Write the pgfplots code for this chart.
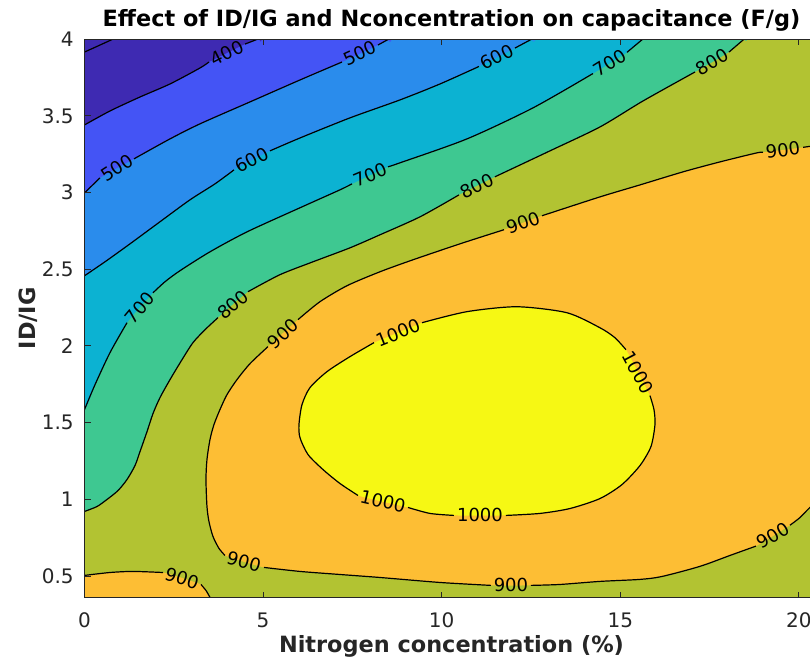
\documentclass[border=0pt]{standalone}
\usepackage{fontspec}
\setmainfont{DejaVu Sans}
\usepackage{pgfplots}
\pgfplotsset{compat=1.18}

% band colours, lowest to highest level
\definecolor{bandA}{RGB}{62,42,178}   % < 400
\definecolor{bandB}{RGB}{68,84,245}   % 400-500
\definecolor{bandC}{RGB}{42,140,236}  % 500-600
\definecolor{bandD}{RGB}{12,178,210}  % 600-700
\definecolor{bandE}{RGB}{62,200,145}  % 700-800
\definecolor{bandF}{RGB}{178,195,50}  % 800-900
\definecolor{bandG}{RGB}{253,190,52}  % 900-1000
\definecolor{bandH}{RGB}{246,248,20}  % > 1000
\definecolor{axgray}{RGB}{38,38,38}

\tikzset{clab/.style={font=\fontsize{9}{9}\selectfont, inner sep=0pt, text=black}}

\begin{document}
\begin{tikzpicture}
\begin{axis}[
  name=ax,
  scale only axis,
  width=367pt, height=279.25pt,
  xmin=0, xmax=20.55, ymin=0.36, ymax=4,
  xtick={0,5,10,15,20},
  ytick={0.5,1,1.5,2,2.5,3,3.5,4},
  axis on top,
  tick align=inside,
  major tick length=3pt,
  axis line style={draw=axgray, line width=0.5pt},
  every tick/.style={axgray, line width=0.5pt},
  /pgf/number format/assume math mode=true,
  ticklabel style={font=\fontsize{10}{12}\selectfont, text=axgray},
  xticklabel style={anchor=base, inner sep=0pt, yshift=-14.75pt},
  yticklabel style={anchor=east, inner sep=0pt, xshift=-5.25pt},
  title={Effect of ID/IG and Nconcentration on capacitance (F/g)},
  title style={font=\bfseries\fontsize{11.2}{13}\selectfont, at={(axis description cs:0.5,1)}, anchor=base, yshift=0.5pt},
  xlabel={Nitrogen concentration (\%)},
  xlabel style={font=\bfseries\fontsize{11.2}{13}\selectfont, text=axgray, at={(axis description cs:0.5,0)}, anchor=base, yshift=-27.6pt},
  ylabel={ID/IG},
  ylabel style={font=\bfseries\fontsize{11.2}{13}\selectfont, text=axgray, at={(axis description cs:-0.0674,0.5)}, anchor=base},
  unbounded coords=jump,
]
\pgfplotsset{
  band/.style={fill=#1, draw=none, smooth, tension=0.45},
  cline/.style={black, line width=0.6pt, line join=round, smooth, tension=0.45},
}

% ---- filled bands (each layer covers everything at or beyond its level)
\addplot[fill=bandF, draw=none] coordinates {(-1,0) (22,0) (22,5) (-1,5)} -- cycle;

% 700-800 : left of the 800 line
\addplot[band=bandE] coordinates {
 (-0.5,0.921) (0,0.921) (0.35,0.953) (0.63,0.999) (0.938,1.057) (1.19,1.129) (1.414,1.22)
 (1.554,1.311) (1.75,1.441) (1.918,1.559) (2.114,1.663) (2.394,1.78) (2.73,1.91)
 (3.037,2.021) (3.373,2.105) (3.737,2.184) (4.577,2.353) (5.473,2.464) (6.397,2.548)
 (7.433,2.639) (8.273,2.724) (9.393,2.841) (10.484,2.984) (11.492,3.102) (13.032,3.271)
 (14.433,3.427) (15.636,3.596) (17.092,3.785) (18.044,3.915) (18.436,3.993) (18.576,4.02)
 (18.8,4.5) (-0.5,4.5)} -- cycle;

% 600-700 : left of the 700 line
\addplot[band=bandD] coordinates {
 (-0.5,1.585) (0,1.585) (0.294,1.747) (0.714,1.956) (1.19,2.151) (1.918,2.346) (2.254,2.418)
 (2.674,2.49) (3.513,2.613) (4.549,2.743) (6.033,2.9) (7.153,3.017) (7.489,3.056)
 (8.497,3.167) (8.833,3.193) (10.709,3.349) (12.556,3.551) (14.236,3.775) (15.188,3.913)
 (15.636,4.0) (15.776,4.02) (16,4.5) (-0.5,4.5)} -- cycle;

% 500-600 : left of the 600 line
\addplot[band=bandC] coordinates {
 (-0.5,2.457) (0,2.457) (0.574,2.548) (1.274,2.665) (2.114,2.809) (2.954,2.952) (3.654,3.056)
 (4.185,3.147) (5.193,3.271) (6.033,3.355) (7.433,3.486) (8.833,3.603) (9.953,3.707)
 (11.044,3.821) (12.052,3.941) (12.472,3.993) (12.64,4.013) (12.8,4.5) (-0.5,4.5)} -- cycle;

% 400-500 : left of the 500 line
\addplot[band=bandB] coordinates {
 (-0.5,2.997) (0,2.997) (0.434,3.095) (1.386,3.219) (2.394,3.349) (3.233,3.447) (4.633,3.59)
 (6.033,3.733) (7.209,3.85) (8.217,3.961) (8.469,3.993) (8.609,4.013) (8.8,4.5) (-0.5,4.5)} -- cycle;

% below 400 : top left corner
\addplot[band=bandA] coordinates {
 (-0.5,3.44) (0,3.44) (0.714,3.531) (1.554,3.622) (2.394,3.707) (3.233,3.811) (3.485,3.85)
 (4.493,3.967) (4.857,4.0) (4.97,4.013) (5.1,4.5) (-0.5,4.5)} -- cycle;

% 900-1000 : the wide pocket opening to the right
\addplot[band=bandG] coordinates {
 (21.16,3.329) (20.12,3.294) (18.995,3.261) (18.827,3.258) (17.791,3.199) (16.755,3.134)
 (15.551,3.049) (14.432,2.971) (12.808,2.848) (11.744,2.757) (10.512,2.665) (9.196,2.561)
 (8.273,2.483) (7.349,2.392) (6.593,2.288) (5.977,2.171) (5.137,1.995) (4.633,1.884)
 (4.269,1.78) (3.989,1.682) (3.793,1.585) (3.625,1.487) (3.513,1.389) (3.429,1.259)
 (3.401,1.129) (3.429,0.953) (3.485,0.855) (3.597,0.758) (3.765,0.68) (3.933,0.634)
 (5.025,0.556) (6.033,0.53) (7.153,0.51) (8.301,0.49) (9.953,0.458) (11.38,0.439)
 (12.5,0.439) (13.312,0.445) (14.432,0.465) (15.551,0.478) (16.167,0.497) (17.231,0.563)
 (18.071,0.634) (18.799,0.695) (19.751,0.831) (20.031,0.881) (20.311,0.947) (20.871,1.064)
 (21.431,1.161) (22,1.3) (22,3.3)} -- cycle;

% 900-1000 : bottom left corner
\addplot[band=bandG] coordinates {
 (-0.5,0.504) (0,0.504) (0.714,0.523) (1.358,0.53) (2.198,0.523) (3.261,0.445) (3.401,0.406)
 (3.513,0.361) (3.569,0.335) (3.6,0.1) (-0.5,0.1)} -- cycle;

% above 1000 : closed island
\addplot[band=bandH] coordinates {
 (9.449,2.151) (10.708,2.223) (12.108,2.255) (13.508,2.216) (14.432,2.118) (14.852,2.053)
 (15.160,1.975) (15.832,1.676) (15.944,1.585) (15.972,1.487) (15.860,1.344) (15.552,1.220)
 (15.048,1.096) (14.432,1.005) (13.592,0.940) (12.752,0.908) (11.800,0.895) (10.344,0.895)
 (9.672,0.908) (9.056,0.947) (7.657,1.025) (7.153,1.103) (6.677,1.194) (6.257,1.292)
 (6.033,1.402) (6.005,1.487) (6.089,1.617) (6.313,1.728) (6.789,1.832) (7.433,1.93)
 (8.105,2.021)} -- cycle;

% ---- contour lines, broken where a label sits
% 300
\addplot[cline] coordinates {(0,3.915) (0.80,4.0) (1.0,4.03)};
% 400
\addplot[cline] coordinates {
 (0,3.44) (0.714,3.531) (1.554,3.622) (2.394,3.707) (3.233,3.811) (3.485,3.85) (nan,nan)
 (4.493,3.967) (4.857,4.0) (4.97,4.013)};
% 500
\addplot[cline] coordinates {
 (0,2.997) (0.434,3.095) (nan,nan)
 (1.386,3.219) (2.394,3.349) (3.233,3.447) (4.633,3.59) (6.033,3.733) (7.209,3.85) (nan,nan)
 (8.217,3.961) (8.469,3.993) (8.609,4.013)};
% 600
\addplot[cline] coordinates {
 (0,2.457) (0.574,2.548) (1.274,2.665) (2.114,2.809) (2.954,2.952) (3.654,3.056) (4.185,3.147) (nan,nan)
 (5.193,3.271) (6.033,3.355) (7.433,3.486) (8.833,3.603) (9.953,3.707) (11.044,3.821) (nan,nan)
 (12.052,3.941) (12.472,3.993) (12.64,4.013)};
% 700
\addplot[cline] coordinates {
 (0,1.585) (0.294,1.747) (0.714,1.956) (1.19,2.151) (nan,nan)
 (1.918,2.346) (2.254,2.418) (2.674,2.49) (3.513,2.613) (4.549,2.743) (6.033,2.9) (7.153,3.017)
 (7.489,3.056) (nan,nan)
 (8.497,3.167) (8.833,3.193) (10.709,3.349) (12.556,3.551) (14.236,3.775) (nan,nan)
 (15.188,3.913) (15.636,4.0) (15.776,4.02)};
% 800
\addplot[cline] coordinates {
 (0,0.921) (0.35,0.953) (0.63,0.999) (0.938,1.057) (1.19,1.129) (1.414,1.22) (1.554,1.311)
 (1.75,1.441) (1.918,1.559) (2.114,1.663) (2.394,1.78) (2.73,1.91) (3.037,2.021) (3.373,2.105)
 (3.737,2.184) (nan,nan)
 (4.577,2.353) (5.473,2.464) (6.397,2.548) (7.433,2.639) (8.273,2.724) (9.393,2.841)
 (10.484,2.984) (nan,nan)
 (11.492,3.102) (13.032,3.271) (14.433,3.427) (15.636,3.596) (17.092,3.785) (nan,nan)
 (18.044,3.915) (18.436,3.993) (18.576,4.02)};
% 900, wide pocket
\addplot[cline] coordinates {
 (21.16,3.329) (20.12,3.294) (nan,nan)
 (18.995,3.261) (18.827,3.258) (17.791,3.199) (16.755,3.134) (15.551,3.049) (14.432,2.971)
 (12.808,2.848) (nan,nan)
 (11.744,2.757) (10.512,2.665) (9.196,2.561) (8.273,2.483) (7.349,2.392) (6.593,2.288)
 (5.977,2.171) (nan,nan)
 (5.137,1.995) (4.633,1.884) (4.269,1.78) (3.989,1.682) (3.793,1.585) (3.625,1.487)
 (3.513,1.389) (3.429,1.259) (3.401,1.129) (3.429,0.953) (3.485,0.855) (3.597,0.758)
 (3.765,0.68) (3.933,0.634) (nan,nan)
 (5.025,0.556) (6.033,0.53) (7.153,0.51) (8.301,0.49) (9.953,0.458) (11.38,0.439) (nan,nan)
 (12.5,0.439) (13.312,0.445) (14.432,0.465) (15.551,0.478) (16.167,0.497) (17.231,0.563)
 (18.071,0.634) (18.799,0.695) (nan,nan)
 (19.751,0.831) (20.031,0.881) (20.311,0.947) (20.871,1.064) (21.431,1.161)};
% 900, bottom left
\addplot[cline] coordinates {
 (0,0.504) (0.714,0.523) (1.358,0.53) (2.198,0.523) (nan,nan)
 (3.261,0.445) (3.401,0.406) (3.513,0.361) (3.569,0.335)};
% 1000
\addplot[cline] coordinates {
 (9.449,2.151) (10.708,2.223) (12.108,2.255) (13.508,2.216) (14.432,2.118) (14.852,2.053)
 (15.160,1.975) (nan,nan)
 (15.832,1.676) (15.944,1.585) (15.972,1.487) (15.860,1.344) (15.552,1.220) (15.048,1.096)
 (14.432,1.005) (13.592,0.940) (12.752,0.908) (11.800,0.895) (nan,nan)
 (10.344,0.895) (9.672,0.908) (9.056,0.947) (nan,nan)
 (7.657,1.025) (7.153,1.103) (6.677,1.194) (6.257,1.292) (6.033,1.402) (6.005,1.487)
 (6.089,1.617) (6.313,1.728) (6.789,1.832) (7.433,1.93) (8.105,2.021)};

% ---- level labels
\node[clab, rotate=27]  at (axis cs:3.99,3.909)   {400};
\node[clab, rotate=33]  at (axis cs:0.91,3.16)    {500};
\node[clab, rotate=25]  at (axis cs:7.713,3.909)  {500};
\node[clab, rotate=28]  at (axis cs:4.689,3.212)  {600};
\node[clab, rotate=28]  at (axis cs:11.548,3.883) {600};
\node[clab, rotate=50]  at (axis cs:1.554,2.249)  {700};
\node[clab, rotate=23]  at (axis cs:7.993,3.115)  {700};
\node[clab, rotate=32]  at (axis cs:14.712,3.844) {700};
\node[clab, rotate=40]  at (axis cs:4.157,2.268)  {800};
\node[clab, rotate=27]  at (axis cs:10.988,3.043) {800};
\node[clab, rotate=30]  at (axis cs:17.565,3.850) {800};
\node[clab, rotate=7]   at (axis cs:19.555,3.277) {900};
\node[clab, rotate=20]  at (axis cs:12.276,2.802) {900};
\node[clab, rotate=42]  at (axis cs:5.557,2.079)  {900};
\node[clab, rotate=-15] at (axis cs:4.465,0.595)  {900};
\node[clab, rotate=0]   at (axis cs:11.94,0.439)  {900};
\node[clab, rotate=31]  at (axis cs:19.275,0.764) {900};
\node[clab, rotate=-18] at (axis cs:2.73,0.484)   {900};
\node[clab, rotate=22]  at (axis cs:8.777,2.086)  {1000};
\node[clab, rotate=-62] at (axis cs:15.496,1.826) {1000};
\node[clab, rotate=-13] at (axis cs:8.357,0.986)  {1000};
\node[clab, rotate=0]   at (axis cs:11.072,0.895) {1000};
\end{axis}
\pgfresetboundingbox
\useasboundingbox ([xshift=-42.25pt,yshift=-32.75pt]ax.south west)
  rectangle ([xshift=362.75pt,yshift=19.5pt]ax.north west);
\end{tikzpicture}
\end{document}
